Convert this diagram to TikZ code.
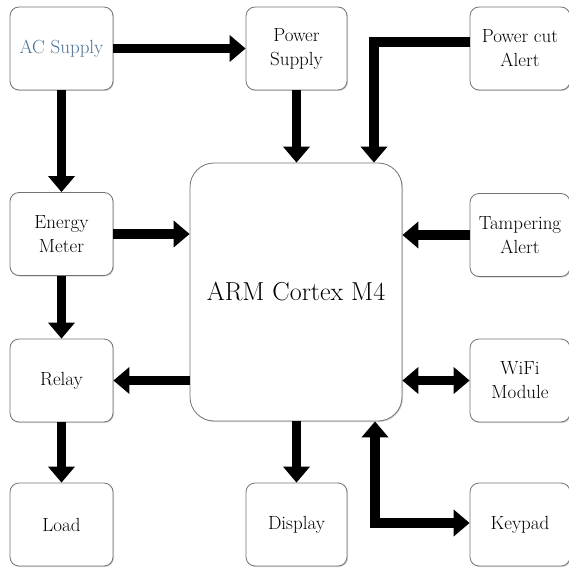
\documentclass[tikz,border=0pt]{standalone}
\usetikzlibrary{arrows.meta,shadows}
\definecolor{acblue}{HTML}{4A7294}
\begin{document}
\begin{tikzpicture}[x=1pt,y=-1pt,
  blk/.style={draw=black!55, line width=0.8pt, rounded corners=9pt, fill=white, inner sep=1pt,
    minimum width=103pt, minimum height=83pt, align=center, font=\fontsize{19}{24}\selectfont,
    drop shadow={shadow xshift=1pt, shadow yshift=-1pt, opacity=0.35}},
  conn/.style={line width=9.5pt, -{Triangle[width=26pt,length=16pt]}},
  bconn/.style={line width=9.5pt, {Triangle[width=26pt,length=16pt]}-{Triangle[width=26pt,length=16pt]}}]
\useasboundingbox (0,0) rectangle (569,567);
\node[blk, text=acblue] (ac) at (61.5,48.5) {AC Supply};
\node[blk] (em) at (61.5,234) {Energy\\Meter};
\node[blk] (relay) at (61.5,380.5) {Relay};
\node[blk] (load) at (61.5,524.5) {Load};
\node[blk, minimum width=101pt] (ps) at (296.5,48.5) {Power\\Supply};
\node[blk, minimum width=101pt] (disp) at (296.5,524.5) {Display};
\node[blk, minimum width=100pt] (pc) at (520,48.5) {Power cut\\Alert};
\node[blk, minimum width=100pt] (tamp) at (520,235) {Tampering\\Alert};
\node[blk, minimum width=100pt] (wifi) at (520,380.5) {WiFi\\Module};
\node[blk, minimum width=100pt] (key) at (520,524.5) {Keypad};
\node[blk, rounded corners=24pt, minimum width=212pt, minimum height=258pt,
  font=\fontsize{26}{30}\selectfont] (arm) at (296,292) {ARM Cortex M4};
\coordinate (pcturn) at (374,42);
\coordinate (kturn) at (375,523);
\draw[conn] (ac.east) -- (ps.west);
\draw[conn] (ac.south) -- (em.north);
\draw[conn] (em.south) -- (relay.north);
\draw[conn] (relay.south) -- (load.north);
\draw[conn] (em.east) -- (em.east -| arm.west);
\draw[conn] (relay.east -| arm.west) -- (relay.east);
\draw[conn] (ps.south) -- (ps.south |- arm.north);
\draw[conn] (pc.west |- pcturn) -- (pcturn) -- (pcturn |- arm.north);
\draw[conn] (tamp.west) -- (tamp.west -| arm.east);
\draw[bconn] (wifi.west -| arm.east) -- (wifi.west);
\draw[conn] (disp.north |- arm.south) -- (disp.north);
\draw[bconn] (kturn |- arm.south) -- (kturn) -- (kturn -| key.west);
\end{tikzpicture}
\end{document}
